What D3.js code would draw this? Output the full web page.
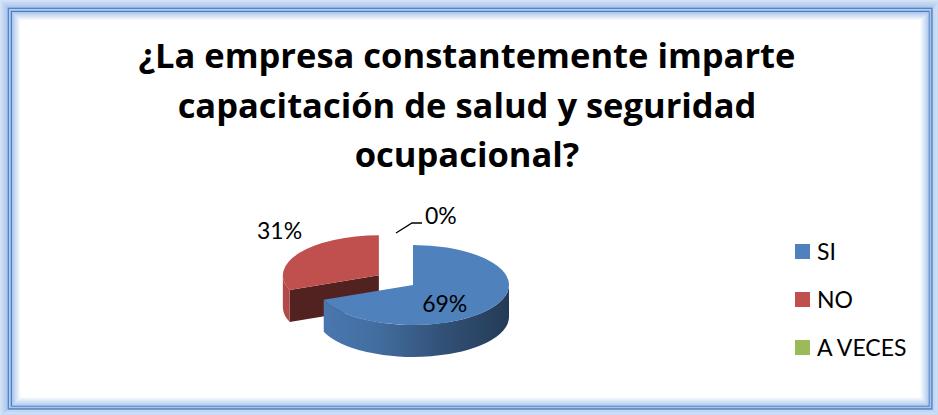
<!DOCTYPE html>
<html>
<head>
<meta charset="utf-8">
<script src="https://cdn.jsdelivr.net/npm/d3@7"></script>
<style>
  html, body { margin: 0; padding: 0; background: #fff; }
  svg { display: block; }
  text { font-family: Lato, "Open Sans", sans-serif; fill: #000; }
</style>
</head>
<body>
<svg id="drawing_region"></svg>
<script>
const titleLines = ["¿La empresa constantemente imparte", "capacitación de salud y seguridad", "ocupacional?"];
const categories = ["SI", "NO", "A VECES"];
const values = [69, 31, 0];
const pctLabels = ["69%", "31%", "0%"];
const colors = ["#4f81bd", "#c0504d", "#9bbb59"];
const explode = [0, 0.43, 0];

const W = 938, H = 415;
const svg = d3.select("#drawing_region").attr("width", W).attr("height", H);
const defs = svg.append("defs");

// frame: soft blue glow with a double line, right/bottom sit a bit closer to the edge
function insetRect(l, color, sw) {
    const r = Math.max(l - 2.4, 0.5);
    svg.append("rect")
        .attr("x", l).attr("y", l)
        .attr("width", W - l - r).attr("height", H - l - r)
        .attr("fill", "none").attr("stroke", color).attr("stroke-width", sw);
}
const outerGlow = d3.interpolateRgb("#d3e2f6", "#a9c6ec");
for (let i = 0; i < 8; i++) insetRect(i + 0.5, outerGlow(i / 7), 1);
insetRect(8.5, "#5585c6", 1.6);
insetRect(10, "#a8c5ed", 1.2);
insetRect(11.3, "#4e80c4", 1.4);
const innerGlow = d3.interpolateRgb("#a3c2ec", "#ffffff");
for (let i = 0; i < 9; i++) insetRect(12.6 + i, innerGlow(i / 8), 1);

// title
svg.append("g").selectAll("text")
    .data(titleLines)
    .join("text")
    .attr("x", 467)
    .attr("y", (d, i) => 68 + i * 49.5)
    .attr("text-anchor", "middle")
    .style("font-family", "'Open Sans', sans-serif")
    .style("font-size", "34.5px")
    .style("font-weight", "bold")
    .text(d => d);

// 3d pie
const cx = 413, cy = 285, rx = 96, ry = 40, depth = 32;
const arcs = d3.pie().sort(null).value(d => d)(values);

const slices = arcs.map((a, i) => {
    const mid = (a.startAngle + a.endAngle) / 2;
    return {
        i: i,
        s: a.startAngle,
        e: a.endAngle,
        mid: mid,
        ox: cx + rx * explode[i] * Math.sin(mid),
        oy: cy - ry * explode[i] * Math.cos(mid)
    };
});

function pt(sl, a, f, z) {
    return [sl.ox + rx * f * Math.sin(a), sl.oy - ry * f * Math.cos(a) + (z || 0)];
}

const pieG = svg.append("g");
slices.filter(sl => sl.e > sl.s)
    .sort((a, b) => a.oy - b.oy)
    .forEach(sl => {
        const c = d3.color(colors[sl.i]);
        const g = pieG.append("g");

        // cut faces, drawn when they face the viewer
        if (Math.sin(sl.s) < 0) {
            const p = pt(sl, sl.s, 1);
            g.append("path")
                .attr("d", `M${sl.ox},${sl.oy}L${p}L${p[0]},${p[1] + depth}L${sl.ox},${sl.oy + depth}Z`)
                .attr("fill", c.darker(2.4));
        }
        if (Math.sin(sl.e) > 0) {
            const p = pt(sl, sl.e, 1);
            g.append("path")
                .attr("d", `M${sl.ox},${sl.oy}L${p}L${p[0]},${p[1] + depth}L${sl.ox},${sl.oy + depth}Z`)
                .attr("fill", c.darker(2.4));
        }

        // outer wall, front half only
        const a0 = Math.max(sl.s, Math.PI / 2), a1 = Math.min(sl.e, Math.PI * 1.5);
        if (a1 > a0) {
            const gid = "wall" + sl.i;
            const grad = defs.append("linearGradient").attr("id", gid)
                .attr("gradientUnits", "userSpaceOnUse")
                .attr("x1", sl.ox - rx).attr("x2", sl.ox + rx).attr("y1", 0).attr("y2", 0);
            grad.append("stop").attr("offset", 0).attr("stop-color", c.darker(0.2));
            grad.append("stop").attr("offset", 0.3).attr("stop-color", c.darker(0.45));
            grad.append("stop").attr("offset", 0.65).attr("stop-color", c.darker(1.3));
            grad.append("stop").attr("offset", 1).attr("stop-color", c.darker(2.2));
            const p0 = pt(sl, a0, 1), p1 = pt(sl, a1, 1);
            const large = (a1 - a0) > Math.PI ? 1 : 0;
            g.append("path")
                .attr("d", `M${p0}A${rx},${ry} 0 ${large} 1 ${p1}` +
                    `L${p1[0]},${p1[1] + depth}` +
                    `A${rx},${ry} 0 ${large} 0 ${p0[0]},${p0[1] + depth}Z`)
                .attr("fill", `url(#${gid})`);
        }

        // top face
        const ps = pt(sl, sl.s, 1), pe = pt(sl, sl.e, 1);
        const largeTop = (sl.e - sl.s) > Math.PI ? 1 : 0;
        g.append("path")
            .attr("d", `M${sl.ox},${sl.oy}L${ps}A${rx},${ry} 0 ${largeTop} 1 ${pe}Z`)
            .attr("fill", c);
    });

// data labels
const labelG = svg.append("g").attr("font-size", 23);
// inside label for the big slice
[0].forEach(i => {
    const p = pt(slices[i], slices[i].mid, 0.4);
    labelG.append("text")
        .attr("x", p[0]).attr("y", p[1] + 18)
        .attr("text-anchor", "middle")
        .text(pctLabels[i]);
});
// outside label for the exploded slice
[1].forEach(i => {
    const sl = slices[i];
    const x = sl.ox + rx * 1.25 * Math.sin(sl.mid);
    const y = sl.oy - ry * 1.95 * Math.cos(sl.mid);
    labelG.append("text")
        .attr("x", x).attr("y", y + 8)
        .attr("text-anchor", "middle")
        .text(pctLabels[i]);
});
// zero slice with leader line
[2].forEach(i => {
    const sl = slices[i];
    const rim = pt(sl, sl.mid, 1);
    const start = [rim[0] - 17, rim[1] - 12];
    const elbow = [start[0] + 16, start[1] - 10];
    const end = [elbow[0] + 10, elbow[1]];
    labelG.append("path")
        .attr("d", `M${start}L${elbow}L${end}`)
        .attr("fill", "none").attr("stroke", "#000").attr("stroke-width", 1.3);
    labelG.append("text")
        .attr("x", end[0] + 3).attr("y", end[1] + 1)
        .text(pctLabels[i]);
});

// legend
const ly = d3.scalePoint().domain(categories).range([251.5, 347.5]);
const legend = svg.append("g").selectAll("g")
    .data(categories)
    .join("g")
    .attr("transform", d => `translate(795,${ly(d)})`);
legend.append("rect")
    .attr("x", 0).attr("y", -7.5)
    .attr("width", 15).attr("height", 15)
    .attr("fill", (d, i) => colors[i]);
legend.append("text")
    .attr("x", 22).attr("y", 8)
    .attr("font-size", 23)
    .text(d => d);
</script>
</body>
</html>
